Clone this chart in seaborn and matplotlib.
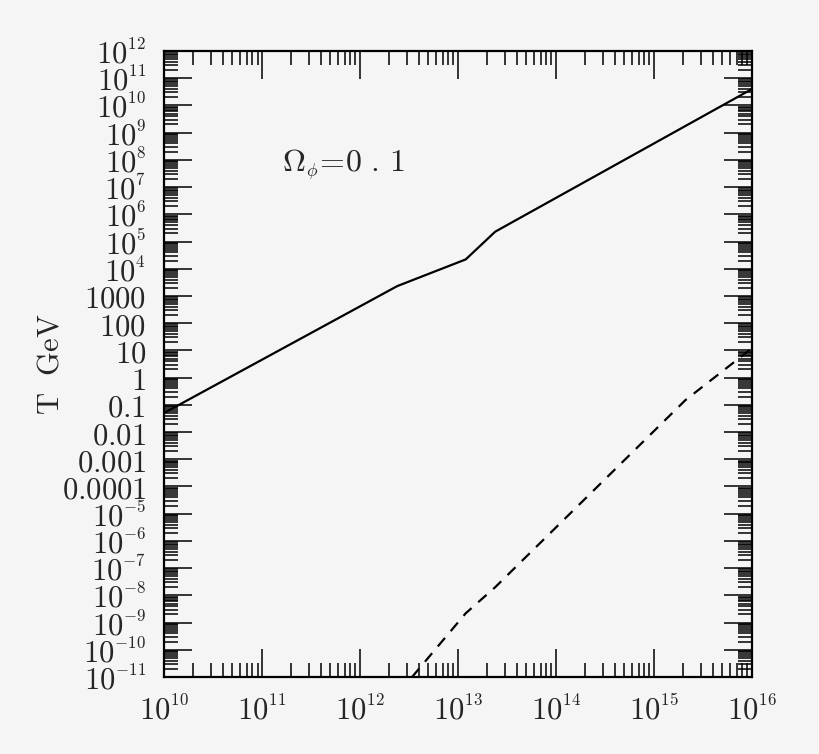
import numpy as np
import pandas as pd
import matplotlib
matplotlib.use("Agg")
import matplotlib.pyplot as plt
import matplotlib.ticker as mticker
import matplotlib._mathtext as mtext
import seaborn as sns

# solid curve
solid_x = [1e10, 2.4e12, 1.2e13, 2.4e13, 1e16]
solid_T = [0.05, 2300, 2.2e4, 2.3e5, 4e10]

# dashed curve
dash_x = [3.4e12, 1.2e13, 2.4e13, 2.1e15, 1e16]
dash_T = [1e-11, 2.2e-9, 2e-8, 0.15, 12]

label_text = r"$\Omega_{\phi}\!=\!0\,\,.\,1$"
ylabel_text = r"$\mathrm{T\ \ GeV}$"

bg = "#f5f5f5"

sns.set_style("ticks")
plt.rcParams["mathtext.fontset"] = "cm"
plt.rcParams["font.family"] = ["DejaVu Serif"]
# small, top-aligned superscripts, like the old plotting package
if hasattr(mtext, "SHRINK_FACTOR"):
    mtext.SHRINK_FACTOR = 0.55
if hasattr(mtext, "ComputerModernFontConstants"):
    mtext.ComputerModernFontConstants.sup1 = 0.55

fig = plt.figure(figsize=(8.2, 7.54), dpi=100, facecolor=bg)
ax = fig.add_axes([0.2, 0.1021, 0.717, 0.8303])
ax.set_facecolor(bg)

df_solid = pd.DataFrame({"x": solid_x, "T": solid_T})
df_dash = pd.DataFrame({"x": dash_x, "T": dash_T})

sns.lineplot(data=df_solid, x="x", y="T", ax=ax, color="black", lw=1.6, sort=False)
sns.lineplot(data=df_dash, x="x", y="T", ax=ax, color="black", lw=1.6, sort=False,
             linestyle=(0, (5, 4)))

ax.set_xscale("log")
ax.set_yscale("log")
ax.set_xlim(1e10, 1e16)
ax.set_ylim(1e-11, 1e12)


def yfmt(v, pos):
    e = int(round(np.log10(v)))
    if -4 <= e <= 3:
        s = f"{v:.{max(0, -e)}f}"
        return r"$\mathrm{" + s + "}$"
    return r"$10^{" + str(e) + "}$"


def xfmt(v, pos):
    e = int(round(np.log10(v)))
    return r"$10^{" + str(e) + "}$"


ax.yaxis.set_major_locator(mticker.LogLocator(base=10, numticks=40))
ax.yaxis.set_minor_locator(mticker.LogLocator(base=10, subs=np.arange(2, 10), numticks=40))
ax.xaxis.set_major_locator(mticker.LogLocator(base=10, numticks=20))
ax.xaxis.set_minor_locator(mticker.LogLocator(base=10, subs=np.arange(2, 10), numticks=20))
ax.yaxis.set_major_formatter(mticker.FuncFormatter(yfmt))
ax.xaxis.set_major_formatter(mticker.FuncFormatter(xfmt))
ax.yaxis.set_minor_formatter(mticker.NullFormatter())
ax.xaxis.set_minor_formatter(mticker.NullFormatter())

ax.tick_params(which="both", direction="in", top=True, right=True, color="black", width=1.1)
ax.tick_params(which="major", length=20, labelsize=22, pad=13)
ax.tick_params(which="minor", length=10)
ax.tick_params(axis="x", which="major", pad=13)

for sp in ax.spines.values():
    sp.set_visible(True)
    sp.set_linewidth(1.6)
    sp.set_color("black")

ax.set_xlabel("")
ax.set_ylabel(ylabel_text, fontsize=22)
ax.yaxis.set_label_coords(-0.168, 0.5)

ax.text(10**11.2, 10**7.8, label_text, fontsize=23, va="center", ha="left")

fig.savefig("out.png", dpi=100, facecolor=bg)
